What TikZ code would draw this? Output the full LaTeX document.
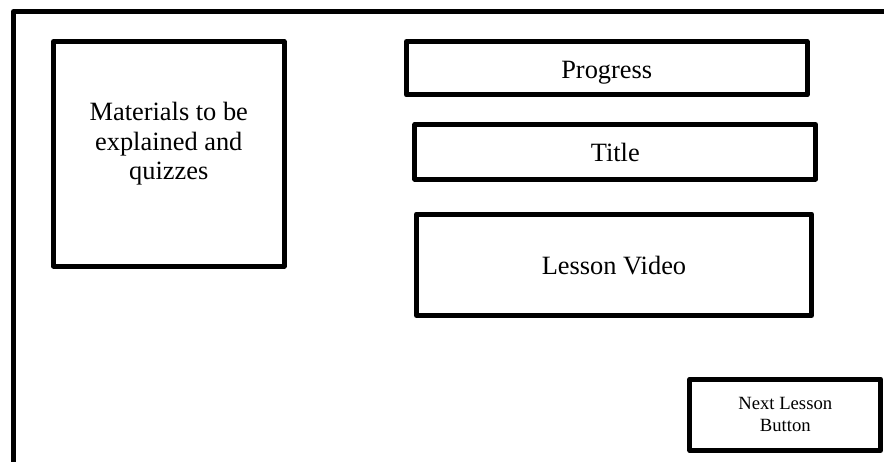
\documentclass[tikz,border=0pt]{standalone}
\usepackage{fontspec}
\setmainfont{Liberation Serif}
\usepackage{tikz}

\begin{document}
\begin{tikzpicture}[x=0.75pt,y=0.75pt,yscale=-1,
    panel/.style={draw, line width=3.75pt, line join=round, inner sep=0pt},
    big/.style={font=\fontsize{19.8}{22.1}\selectfont, text height=15pt, text depth=0pt},
    small/.style={font=\fontsize{14}{16.3}\selectfont, align=center}]
        %set diagram to 884 x 461, frame runs off the right and bottom
        \clip (0,0) rectangle (884,461);

        %Shape: Rectangle (page frame)
        \draw [line width=3.75pt, line join=round] (13.5,11.5) rectangle (920,500);

        %Shape: Rectangle
        \node [panel, minimum width=172.9pt, minimum height=168.4pt] (mat) at (168.75,153.75) {};
        % Text Node
        \node [font=\fontsize{19.8}{22.1}\selectfont, align=center, inner sep=0pt] (matlabel) at ([yshift=-7.5pt]mat.center) {Materials to be\\explained and\\quizzes};

        %Shape: Rectangle
        \node [panel, big, minimum width=300.4pt, minimum height=40.1pt] (progress) at (606.75,68.25) {Progress};
        %Shape: Rectangle
        \node [panel, big, minimum width=300.4pt, minimum height=40.9pt] (title) at (615.25,151.75) {Title};
        %Shape: Rectangle
        \node [panel, big, minimum width=296.3pt, minimum height=76.1pt] (video) at (614,264.75) {Lesson Video};

        %Shape: Rectangle
        \node [panel, small, minimum width=142.9pt, minimum height=53.6pt] (next) at (785.25,414.75) {Next Lesson\\Button};

\end{tikzpicture}
\end{document}
